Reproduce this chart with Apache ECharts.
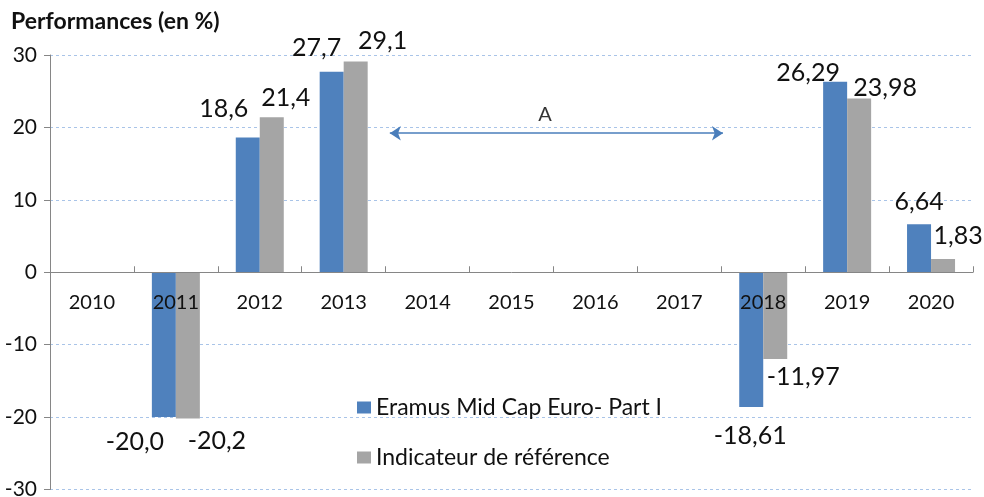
<!DOCTYPE html>
<html>
<head>
<meta charset="utf-8">
<script src="https://cdn.jsdelivr.net/npm/echarts@6/dist/echarts.min.js"></script>
<style>
  html, body { margin: 0; padding: 0; background: #fff; }
  #chart { width: 984px; height: 497px; }
</style>
</head>
<body>
<div id="chart"></div>
<script>
  const years = ['2010', '2011', '2012', '2013', '2014', '2015', '2016', '2017', '2018', '2019', '2020']
  const fundValues = [null, -20.0, 18.6, 27.7, null, null, null, null, -18.61, 26.29, 6.64]
  const benchValues = [null, -20.2, 21.4, 29.1, null, null, null, null, -11.97, 23.98, 1.83]
  const fundLabels = ['', '-20,0', '18,6', '27,7', '', '', '', '', '-18,61', '26,29', '6,64']
  const benchLabels = ['', '-20,2', '21,4', '29,1', '', '', '', '', '-11,97', '23,98', '1,83']
  const seriesNames = ['Eramus Mid Cap Euro- Part I', 'Indicateur de référence']
  // période "A" : flèche entre deux positions de l'axe des années (index, valeur)
  const arrowStart = [3.55, 19.2]
  const arrowEnd = [7.52, 19.2]
  const arrowText = [5.4, 21.8]
  const arrowLabel = 'A'

  const font = 'Lato, "Open Sans", sans-serif'
  const textColor = '#111'

  const gridTop = 55
  const gridBottom = 7.5
  const plotHeight = 497 - gridTop - gridBottom

  // décalages des étiquettes (comme dans Excel, elles s'écartent pour ne pas se chevaucher)
  const fundOffsets = [null, [-29, 7], [-24, -11], [-15, -6], null, null, null, null, [-1, 11], [-27, 9], [0, -5]]
  const benchOffsets = [null, [29, 5], [14, -2], [27, -3], null, null, null, null, [28, 1], [26, 7], [15, -6]]

  function buildData (values, labels, offsets) {
    return values.map((v, i) => {
      if (v === null) return null
      return {
        value: v,
        label: {
          formatter: labels[i],
          position: v < 0 ? 'bottom' : 'top',
          offset: offsets[i] || [0, 0]
        }
      }
    })
  }

  const barLabel = { show: true, fontSize: 25, color: textColor, fontFamily: font, distance: 5 }

  const chart = echarts.init(document.getElementById('chart'))
  chart.setOption({
    animation: false,
    textStyle: { fontFamily: font },
    title: {
      text: 'Performances (en %)',
      left: 6,
      top: 5,
      textStyle: { fontFamily: font, fontSize: 23, fontWeight: 'bold', color: textColor }
    },
    legend: {
      orient: 'vertical',
      left: 352,
      top: 391,
      itemGap: 27,
      itemWidth: 14,
      itemHeight: 12,
      itemStyle: { borderWidth: 0 },
      icon: 'rect',
      data: seriesNames,
      textStyle: { fontFamily: font, fontSize: 23, color: textColor }
    },
    grid: {
      left: 50,
      right: 11,
      top: gridTop,
      bottom: gridBottom,
      containLabel: false,
      outerBoundsMode: 'none'
    },
    xAxis: [{
      type: 'category',
      data: years,
      position: 'bottom',
      // axe placé sur le zéro (milieu de l'échelle -30..30)
      offset: -plotHeight / 2,
      axisLine: { show: true, onZero: false, lineStyle: { color: '#868686', width: 1 } },
      axisTick: { show: true, inside: true, length: 6, alignWithLabel: false, lineStyle: { color: '#868686' } },
      axisLabel: { show: true, fontSize: 20, color: textColor, margin: 20, fontFamily: font },
      splitLine: { show: false },
      z: 10
    }, {
      type: 'value',
      min: -0.5,
      max: 10.5,
      show: false
    }],
    yAxis: {
      type: 'value',
      min: -30,
      max: 30,
      interval: 10,
      axisLine: { show: true, onZero: false, lineStyle: { color: '#868686' } },
      axisTick: { show: true, length: 6, lineStyle: { color: '#868686' } },
      axisLabel: { fontSize: 21, color: textColor, margin: 13, fontFamily: font },
      splitLine: { show: true, lineStyle: { color: '#a9c4e8', type: [3, 3] } }
    },
    series: [{
      name: seriesNames[0],
      type: 'bar',
      barWidth: 24,
      barGap: '0%',
      itemStyle: { color: '#4f81bd' },
      label: barLabel,
      data: buildData(fundValues, fundLabels, fundOffsets)
    }, {
      name: seriesNames[1],
      type: 'bar',
      barWidth: 24,
      itemStyle: { color: '#a5a5a5' },
      label: barLabel,
      data: buildData(benchValues, benchLabels, benchOffsets)
    }, {
      type: 'scatter',
      xAxisIndex: 1,
      silent: true,
      symbolSize: 0,
      label: {
        show: true,
        position: 'inside',
        formatter: arrowLabel,
        fontSize: 20,
        color: '#000',
        fontFamily: font
      },
      data: [arrowText],
      markLine: {
        silent: true,
        symbol: ['arrow', 'arrow'],
        symbolSize: [11, 11],
        lineStyle: { color: '#4a7ebb', width: 1.5, type: 'solid' },
        label: { show: false },
        data: [[{ coord: arrowStart }, { coord: arrowEnd }]]
      }
    }]
  })
</script>
</body>
</html>
